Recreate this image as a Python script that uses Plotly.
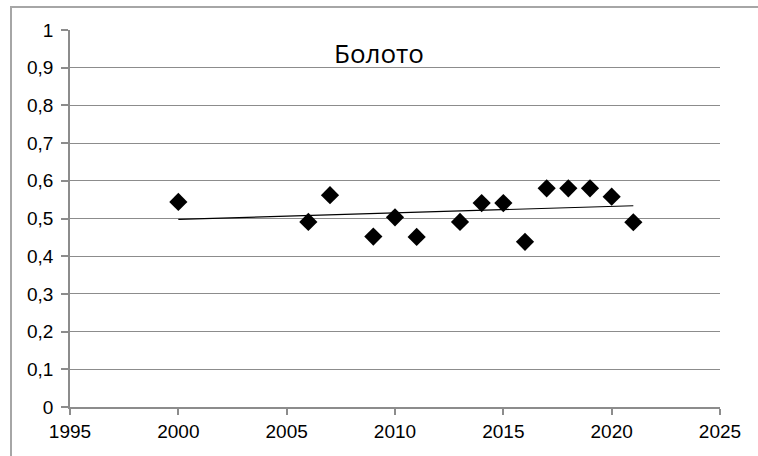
import numpy as np
import plotly.graph_objects as go

years = [2000, 2006, 2007, 2009, 2010, 2011, 2013, 2014, 2015, 2016, 2017, 2018, 2019, 2020, 2021]
values = [0.544, 0.491, 0.562, 0.452, 0.503, 0.451, 0.491, 0.541, 0.541, 0.438, 0.580, 0.580, 0.580, 0.558, 0.490]
title_text = "Болото"
x_ticks = [1995, 2000, 2005, 2010, 2015, 2020, 2025]
y_ticks = [0, 0.1, 0.2, 0.3, 0.4, 0.5, 0.6, 0.7, 0.8, 0.9, 1]

slope, intercept = np.polyfit(years, values, 1)
trend_x = [min(years), max(years)]
trend_y = [slope * x + intercept for x in trend_x]

fig = go.Figure()
fig.add_trace(go.Scatter(x=trend_x, y=trend_y, mode="lines",
                         line=dict(color="black", width=1.2), hoverinfo="skip"))
fig.add_trace(go.Scatter(x=years, y=values, mode="markers",
                         marker=dict(symbol="diamond", size=14, color="black")))

fig.add_annotation(x=0.475, y=0.939, xref="paper", yref="paper", text=title_text,
                   xanchor="center", yanchor="middle",
                   showarrow=False, font=dict(family="Open Sans", size=26, color="black"))

L, T, W, H = 70, 30, 650, 377
fig.add_shape(type="rect", xref="paper", yref="paper",
              x0=(11 - L) / W, y0=-0.3, x1=1.2, y1=1 + (T - 7) / H,
              line=dict(color="#a6a6a6", width=2), fillcolor="rgba(0,0,0,0)", layer="below")

tick_font = dict(family="Liberation Sans", size=19, color="#000000")
fig.update_layout(
    width=758, height=456,
    margin=dict(l=L, r=758 - L - W, t=T, b=456 - T - H),
    paper_bgcolor="white", plot_bgcolor="white",
    showlegend=False,
    separators=", ",
)
fig.update_xaxes(range=[1995, 2025], tickvals=x_ticks, showgrid=False, zeroline=False,
                 showline=True, linecolor="#8c8c8c", linewidth=1.5,
                 ticks="outside", ticklen=6, tickcolor="#8c8c8c", tickwidth=1.5,
                 tickfont=tick_font, automargin=False)
fig.update_yaxes(range=[0, 1], tickvals=y_ticks, showgrid=True, gridcolor="#8c8c8c", gridwidth=1.2,
                 zeroline=False, showline=True, linecolor="#8c8c8c", linewidth=1.5,
                 ticks="outside", ticklen=7, tickcolor="#8c8c8c", tickwidth=1.5,
                 tickfont=tick_font, ticklabelstandoff=4, automargin=False)

fig.write_html("out.html", config={"displayModeBar": False},
               post_script="document.body.style.margin='0';")
